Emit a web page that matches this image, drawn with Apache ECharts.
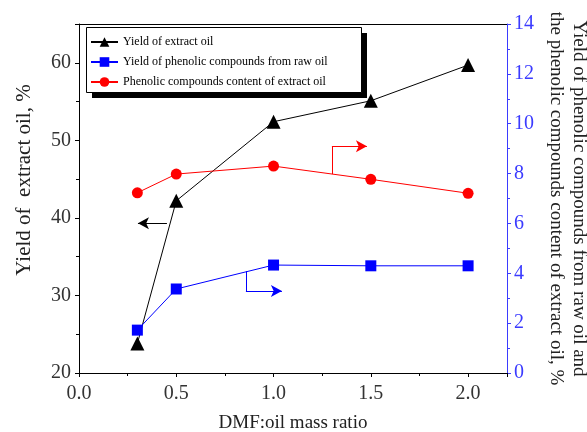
<!DOCTYPE html>
<html>
<head>
<meta charset="utf-8">
<script src="https://cdn.jsdelivr.net/npm/echarts@6/dist/echarts.min.js"></script>
<style>
  html, body { margin: 0; padding: 0; background: #fff; }
  #chart { width: 587px; height: 432px; }
</style>
</head>
<body>
<div id="chart"></div>
<script>
// DMF:oil mass ratio
const ratios = [0.3, 0.5, 1.0, 1.5, 2.0];
// Yield of extract oil, % (left axis)
const extractYield = [23.8, 42.2, 52.4, 55.1, 59.7];
// Yield of phenolic compounds from raw oil, % (right axis)
const phenolYield = [1.72, 3.37, 4.33, 4.3, 4.3];
// Phenolic compounds content of extract oil, % (right axis)
const phenolContent = [7.23, 7.98, 8.3, 7.77, 7.21];

const seriesNames = [
  'Yield of extract oil',
  'Yield of phenolic compounds from raw oil',
  'Phenolic compounds content of extract oil'
];
const leftTitle = 'Yield of  extract oil, %';

// Pointer arrows telling which axis each curve belongs to (data coordinates)
const leftPointer = [[0.452, 39.3], [0.303, 39.3]];
const bluePointer = [[0.858, 4.09], [0.858, 3.29], [1.043, 3.29]];
const redPointer = [[1.30, 7.98], [1.30, 9.1], [1.48, 9.1]];

const zip = (xs, ys) => xs.map((x, i) => [x, ys[i]]);

function pointerLines(pts) {
  const segs = [];
  for (let i = 0; i < pts.length - 1; i++) {
    const last = i === pts.length - 2;
    segs.push([
      { coord: pts[i], symbol: 'none' },
      { coord: pts[i + 1], symbol: last ? 'arrow' : 'none' }
    ]);
  }
  return segs;
}

const serif = 'Liberation Serif, Times New Roman, serif';
const BLUE = '#3b3bff';

const chart = echarts.init(document.getElementById('chart'), null, { renderer: 'canvas' });

chart.setOption({
  animation: false,
  backgroundColor: '#fff',
  textStyle: { fontFamily: serif },
  grid: { left: 79, right: 80, top: 24, bottom: 59, containLabel: false, outerBoundsMode: 'none' },
  graphic: [{
    // legend frame with a solid drop shadow
    type: 'rect',
    z: 3,
    silent: true,
    shape: { x: 92, y: 33, width: 275, height: 65 },
    style: { fill: '#000' }
  }, {
    type: 'rect',
    z: 3,
    silent: true,
    shape: { x: 86.5, y: 27.5, width: 275, height: 65 },
    style: { fill: '#fff', stroke: '#000', lineWidth: 1 }
  }, {
    // left axis title
    type: 'text',
    silent: true,
    x: 24,
    y: 180,
    rotation: Math.PI / 2,
    style: {
      text: leftTitle,
      font: '21px ' + serif,
      fill: '#222',
      align: 'center',
      verticalAlign: 'middle'
    }
  }],
  legend: {
    orient: 'vertical',
    left: 86,
    top: 27,
    z: 5,
    padding: [9, 24, 5, 4],
    itemGap: 8,
    itemWidth: 27,
    itemHeight: 12,
    textStyle: { fontFamily: serif, fontSize: 12, color: '#000' },
    data: seriesNames
  },
  xAxis: [{
    type: 'value',
    min: 0,
    max: 2.2,
    interval: 0.5,
    name: 'DMF:oil mass ratio',
    nameLocation: 'middle',
    nameGap: 41,
    nameTextStyle: { fontFamily: serif, fontSize: 19, color: '#222' },
    axisLine: { onZero: false, lineStyle: { color: '#000', width: 1 } },
    axisTick: { show: true, length: 4, lineStyle: { color: '#000' } },
    minorTick: { show: true, splitNumber: 2, length: 3, lineStyle: { color: '#000' } },
    axisLabel: {
      fontFamily: serif, fontSize: 20, color: '#333', margin: 11,
      formatter: v => (v <= 2.0 ? v.toFixed(1) : '')
    },
    splitLine: { show: false }
  }, {
    type: 'value',
    position: 'top',
    min: 0,
    max: 2.2,
    axisLine: { show: true, onZero: false, lineStyle: { color: '#000', width: 1 } },
    axisTick: { show: false },
    axisLabel: { show: false },
    splitLine: { show: false }
  }],
  yAxis: [{
    type: 'value',
    position: 'left',
    min: 20,
    max: 65,
    interval: 10,
    axisLine: { show: true, onZero: false, lineStyle: { color: '#000', width: 1 } },
    axisTick: { show: true, length: 4, lineStyle: { color: '#000' } },
    minorTick: { show: true, splitNumber: 2, length: 3, lineStyle: { color: '#000' } },
    axisLabel: {
      fontFamily: serif, fontSize: 20, color: '#333', margin: 8,
      formatter: v => (v <= 60 ? String(v) : '')
    },
    splitLine: { show: false }
  }, {
    type: 'value',
    position: 'right',
    min: 0,
    max: 14,
    interval: 2,
    name: 'Yield of phenolic compounds from raw oil and\nthe phenolic compounds content of extract oil, %',
    nameLocation: 'middle',
    nameGap: 36,
    nameRotate: -90,
    nameTextStyle: { fontFamily: serif, fontSize: 19, color: '#222', lineHeight: 23 },
    axisLine: { show: true, onZero: false, lineStyle: { color: BLUE, width: 1 } },
    axisTick: { show: true, length: 4, lineStyle: { color: BLUE } },
    minorTick: { show: true, splitNumber: 2, length: 3, lineStyle: { color: BLUE } },
    axisLabel: { fontFamily: serif, fontSize: 20, color: BLUE, margin: 7 },
    splitLine: { show: false }
  }],
  series: [{
    name: seriesNames[0],
    type: 'line',
    yAxisIndex: 0,
    data: zip(ratios, extractYield),
    symbol: 'triangle',
    symbolSize: 14,
    itemStyle: { color: '#000' },
    lineStyle: { color: '#000', width: 1 },
    markLine: {
      silent: true,
      symbolSize: [9, 11],
      label: { show: false },
      lineStyle: { color: '#000', width: 1, type: 'solid' },
      data: pointerLines(leftPointer)
    }
  }, {
    name: seriesNames[1],
    type: 'line',
    yAxisIndex: 1,
    data: zip(ratios, phenolYield),
    symbol: 'rect',
    symbolSize: 11,
    itemStyle: { color: '#0000ff' },
    lineStyle: { color: '#0000ff', width: 1 },
    markLine: {
      silent: true,
      symbolSize: [9, 11],
      label: { show: false },
      lineStyle: { color: '#0000ff', width: 1, type: 'solid' },
      data: pointerLines(bluePointer)
    }
  }, {
    name: seriesNames[2],
    type: 'line',
    yAxisIndex: 1,
    data: zip(ratios, phenolContent),
    symbol: 'circle',
    symbolSize: 11,
    itemStyle: { color: '#ff0000' },
    lineStyle: { color: '#ff0000', width: 1 },
    markLine: {
      silent: true,
      symbolSize: [9, 11],
      label: { show: false },
      lineStyle: { color: '#ff0000', width: 1, type: 'solid' },
      data: pointerLines(redPointer)
    }
  }]
});
</script>
</body>
</html>
